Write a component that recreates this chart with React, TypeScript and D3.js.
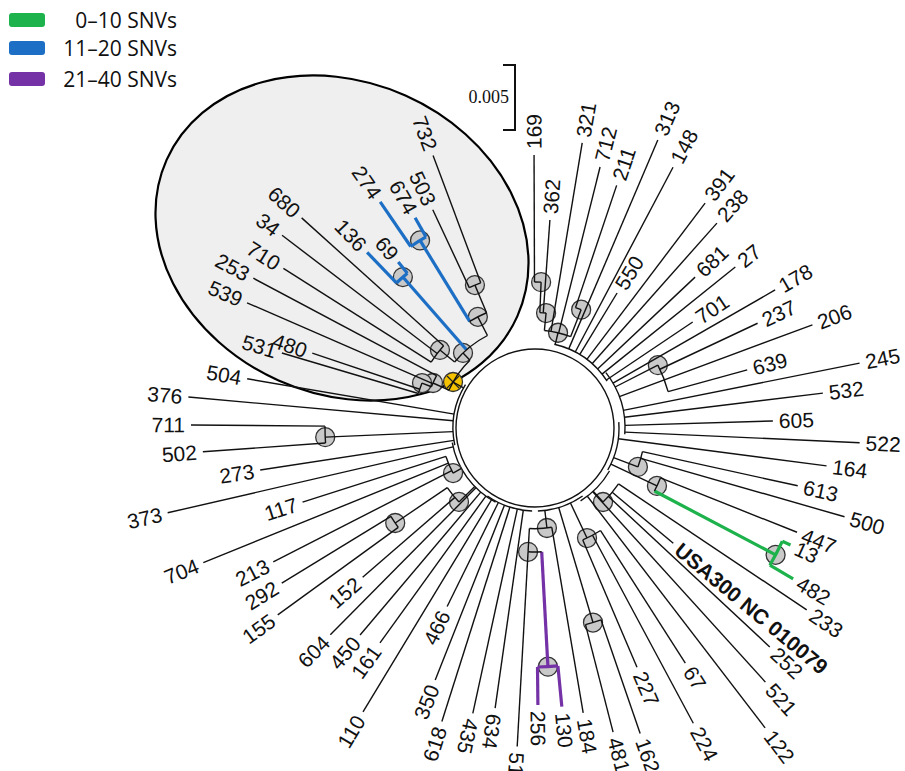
import React from 'react';
import * as d3 from 'd3';

// ---------- data ----------
// internal nodes: id, angle (deg, clockwise from east), radial depth, parent, colour key
const nodes: [string, number, number, string | null, string][] = [
  ['A', 283.6, 98, null, 'k'],
  ['B', 275.5, 115.5, 'A', 'k'],
  ['C', 272.4, 146, 'B', 'k'],
  ['D', 291.3, 127, 'A', 'k'],
  ['E', 332.9, 138, null, 'k'],
  ['F', 20.7, 110, null, 'k'],
  ['G', 25.4, 135, null, 'k'],
  ['H', 27.8, 272, 'G', 'g'],
  ['I', 47.4, 100.5, null, 'k'],
  ['J', 64.7, 121.7, null, 'k'],
  ['K', 73.4, 203, null, 'k'],
  ['L', 83.2, 100.7, null, 'k'],
  ['M', 93.2, 124, 'L', 'k'],
  ['P', 86.9, 239, 'M', 'p'],
  ['Q', 151.2, 93.5, null, 'k'],
  ['R', 135.8, 106, null, 'k'],
  ['S', 145.8, 169, 'R', 'k'],
  ['T', 177.5, 210, null, 'k'],
  ['Y', 209.3, 94, null, 'k'],
  ['e2', 203.8, 111.5, 'Y', 'k'],
  ['e1', 201.7, 121.6, 'e2', 'k'],
  ['e4', 226.2, 104, 'Y', 'k'],
  ['e3', 219.4, 123, 'e4', 'k'],
  ['e5', 242.8, 125, 'e4', 'k'],
  ['e6', 247.2, 155, 'e5', 'k'],
  ['b2', 228.8, 200.6, 'e4', 'b'],
  ['b1', 238.5, 220, 'e5', 'b'],
];

// leaves: label, angle, tip depth, parent, colour key
const leaves: [string, number, number, string | null, string][] = [
  ['169', 269.8, 273, 'C', 'k'],
  ['362', 274.1, 208.5, 'B', 'k'],
  ['321', 279.4, 289, 'A', 'k'],
  ['712', 284.0, 269, 'A', 'k'],
  ['211', 288.6, 256, 'D', 'k'],
  ['313', 293.1, 313, null, 'k'],
  ['148', 297.9, 295, null, 'k'],
  ['550', 301.3, 158, null, 'k'],
  ['391', 307.1, 282, null, 'k'],
  ['238', 311.6, 274, null, 'k'],
  ['681', 316.7, 220, null, 'k'],
  ['27', 321.2, 257, null, 'k'],
  ['701', 326.1, 190, null, 'k'],
  ['178', 330.1, 277, null, 'k'],
  ['237', 334.8, 246, 'E', 'k'],
  ['206', 339.6, 296, null, 'k'],
  ['639', 344.7, 220, 'E', 'k'],
  ['245', 348.7, 331, null, 'k'],
  ['532', 353.1, 290, null, 'k'],
  ['605', 358.3, 238, null, 'k'],
  ['522', 2.6, 325, null, 'k'],
  ['164', 7.4, 294, null, 'k'],
  ['613', 12.4, 269, 'F', 'k'],
  ['500', 16.0, 322, 'F', 'k'],
  ['447', 21.7, 282, 'G', 'k'],
  ['13', 24.6, 281, 'H', 'g'],
  ['482', 30.3, 299, 'H', 'g'],
  ['233', 33.8, 327, 'I', 'k'],
  ['USA300 NC 010079', 39.8, 180, 'I', 'k'],
  ['252', 43.0, 321, 'I', 'k'],
  ['521', 47.8, 343, null, 'k'],
  ['122', 52.5, 378, null, 'k'],
  ['67', 57.4, 279, 'J', 'k'],
  ['224', 61.8, 335, 'J', 'k'],
  ['227', 66.9, 260, 'J', 'k'],
  ['162', 71.0, 323, 'K', 'k'],
  ['481', 75.6, 314, 'K', 'k'],
  ['184', 80.4, 289, 'L', 'k'],
  ['130', 84.5, 280, 'P', 'p'],
  ['256', 89.4, 277, 'P', 'p'],
  ['51', 93.2, 319, 'M', 'k'],
  ['634', 98.1, 283, null, 'k'],
  ['435', 102.3, 292, null, 'k'],
  ['618', 107.6, 308, null, 'k'],
  ['350', 111.6, 271, null, 'k'],
  ['466', 116.2, 199, null, 'k'],
  ['110', 121.2, 332, null, 'k'],
  ['161', 125.8, 265, null, 'k'],
  ['450', 130.2, 271, null, 'k'],
  ['604', 134.7, 291, null, 'k'],
  ['152', 139.1, 228, 'R', 'k'],
  ['155', 144.0, 318, 'S', 'k'],
  ['292', 148.5, 297, 'S', 'k'],
  ['213', 152.9, 294, 'Q', 'k'],
  ['704', 157.9, 358, 'Q', 'k'],
  ['117', 162.3, 244, 'Q', 'k'],
  ['373', 167.0, 377, null, 'k'],
  ['273', 171.3, 278, null, 'k'],
  ['502', 175.9, 333, 'T', 'k'],
  ['711', 180.5, 344, 'T', 'k'],
  ['376', 185.1, 348, null, 'k'],
  ['504', 189.7, 292, null, 'k'],
  ['531', 196.5, 264, 'e1', 'k'],
  ['480', 198.6, 235, 'e1', 'k'],
  ['539', 203.5, 314, 'e2', 'k'],
  ['253', 208.0, 319, 'e2', 'k'],
  ['710', 212.4, 298, 'e3', 'k'],
  ['34', 217.3, 318, 'e3', 'k'],
  ['680', 222.0, 314, 'e3', 'k'],
  ['136', 226.3, 243, 'b2', 'b'],
  ['69', 230.5, 215, 'b2', 'b'],
  ['274', 235.6, 274, 'b1', 'b'],
  ['674', 240.3, 242, 'b1', 'b'],
  ['503', 244.9, 241, 'e6', 'k'],
  ['732', 249.5, 291, 'e6', 'k'],
];

// backbone arcs: start angle, end angle, depth
const backbone: [number, number, number][] = [
  [283, 327, 86],
  [322, 364, 90],
  [356, 390, 84],
  [30, 58, 86],
  [55, 88, 83],
  [92, 125, 83],
  [118, 170, 84],
  [168, 212, 82],
];
const rootRadius = 79;

const legendLabels = ['0\u201310 SNVs', '11\u201320 SNVs', '21\u201340 SNVs'];
const legendKeys = ['g', 'b', 'p'];
const scaleBarLabel = '0.005';

const colors: Record<string, string> = {
  k: '#111111',
  g: '#1db24b',
  b: '#1d6fc5',
  p: '#7432a6',
};

// ---------- layout helpers ----------
const CX = 535;
const CY = 428;
const angleScale = d3.scaleLinear().domain([0, 360]).range([0, 2 * Math.PI]);
const rScale = d3.scaleLinear().domain([0, 400]).range([0, 400]);
const pt = (a: number, r: number): [number, number] => {
  const t = angleScale(a);
  const rr = rScale(r);
  return [CX + rr * Math.cos(t), CY + rr * Math.sin(t)];
};

type Item = { id: string; a: number; r: number; p: string | null; c: string; leaf: boolean };
const items: Item[] = [
  ...nodes.map(([id, a, r, p, c]) => ({ id, a, r, p, c, leaf: false })),
  ...leaves.map(([id, a, r, p, c]) => ({ id, a, r, p, c, leaf: true })),
];
const byId = new Map(items.map((d) => [d.id, d]));

const baseRadius = (a: number) => {
  for (const [a0, a1, r] of backbone) {
    if ((a >= a0 && a <= a1) || (a + 360 >= a0 && a + 360 <= a1)) return r;
  }
  return rootRadius;
};

const arcPath = (a0: number, a1: number, r: number) => {
  const p = d3.path();
  const [x0, y0] = pt(a0, r);
  p.moveTo(x0, y0);
  p.arc(CX, CY, rScale(r), angleScale(a0), angleScale(a1), false);
  return p.toString();
};

export default function App() {
  const edges = items.map((d) => {
    const pr = d.p ? byId.get(d.p)!.r : baseRadius(d.a);
    const [x1, y1] = pt(d.a, pr);
    const [x2, y2] = pt(d.a, d.r);
    return { key: 'e' + d.id, x1, y1, x2, y2, c: d.c };
  });
  const brackets = nodes.map(([id, a, r]) => {
    const kids = items.filter((d) => d.p === id);
    const angs = [a, ...kids.map((k) => k.a)];
    const cols = new Set(kids.map((k) => k.c));
    const c = cols.size === 1 ? [...cols][0] : 'k';
    return { key: 'b' + id, d: arcPath(d3.min(angs)!, d3.max(angs)!, r), c };
  });

  const labels = leaves.map(([id, a, r]) => {
    const flip = a > 105 && a < 262;
    const [x, y] = pt(a, r + 6);
    const rot = flip ? a - 180 : a;
    return { id, x, y, rot, anchor: flip ? 'end' : 'start' };
  });

  return (
    <svg
      width={905}
      height={771}
      style={{ position: 'absolute', left: 0, top: 0, background: '#fff' }}
      fontFamily="'Liberation Sans', Arial, sans-serif"
    >
      <rect x={0} y={0} width={905} height={771} fill="#fff" />
      <ellipse
        cx={342}
        cy={238}
        rx={192}
        ry={156}
        transform="rotate(24 342 238)"
        fill="#efefef"
        stroke="#000"
        strokeWidth={2.2}
      />
      <circle cx={CX} cy={CY} r={rScale(rootRadius)} fill="none" stroke="#111" strokeWidth={1.4} />
      {backbone.map(([a0, a1, r], i) => (
        <path key={'bb' + i} d={arcPath(a0, a1, r)} fill="none" stroke="#111" strokeWidth={1.4} />
      ))}
      {nodes.map(([id, a, r]) => {
        const [x, y] = pt(a, r);
        const yellow = id === 'Y';
        return (
          <g key={'m' + id}>
            <circle cx={x} cy={y} r={9.5} fill={yellow ? '#f5c200' : '#c9c9c9'} stroke="#333" strokeWidth={1.3} />
            {yellow && (
              <g stroke="#222" strokeWidth={1.2}>
                <line x1={x - 6} y1={y - 6} x2={x + 6} y2={y + 6} />
                <line x1={x - 6} y1={y + 6} x2={x + 6} y2={y - 6} />
              </g>
            )}
          </g>
        );
      })}
      {edges.map((e) => (
        <line
          key={e.key}
          x1={e.x1}
          y1={e.y1}
          x2={e.x2}
          y2={e.y2}
          stroke={colors[e.c]}
          strokeWidth={e.c === 'k' ? 1.4 : 3.2}
        />
      ))}
      {brackets.map((b) => (
        <path key={b.key} d={b.d} fill="none" stroke={colors[b.c]} strokeWidth={b.c === 'k' ? 1.4 : 3.2} />
      ))}
      {labels.map((l) => (
        <text
          key={'t' + l.id}
          x={l.x}
          y={l.y}
          transform={`rotate(${l.rot} ${l.x} ${l.y})`}
          textAnchor={l.anchor}
          dominantBaseline="central"
          fontSize={21}
          fontWeight={l.id.startsWith('USA') ? 'bold' : 'normal'}
          fill="#111"
        >
          {l.id}
        </text>
      ))}
      <path d="M503,65 H515 V130 H503" fill="none" stroke="#111" strokeWidth={2} />
      <text
        x={509}
        y={97}
        textAnchor="end"
        dominantBaseline="central"
        fontFamily="'Liberation Serif', 'DejaVu Serif', serif"
        fontSize={18}
        fill="#111"
      >
        {scaleBarLabel}
      </text>
      {legendLabels.map((t, i) => {
        const ys = [13, 41, 72];
        return (
          <g key={'lg' + i}>
            <rect x={9} y={ys[i]} width={36} height={14} rx={3} fill={colors[legendKeys[i]]} />
            <text
              x={177}
              y={ys[i] + 15}
              textAnchor="end"
              fontFamily="'Open Sans', 'Noto Sans', sans-serif"
              fontSize={21}
              fill="#111"
            >
              {t}
            </text>
          </g>
        );
      })}
    </svg>
  );
}
